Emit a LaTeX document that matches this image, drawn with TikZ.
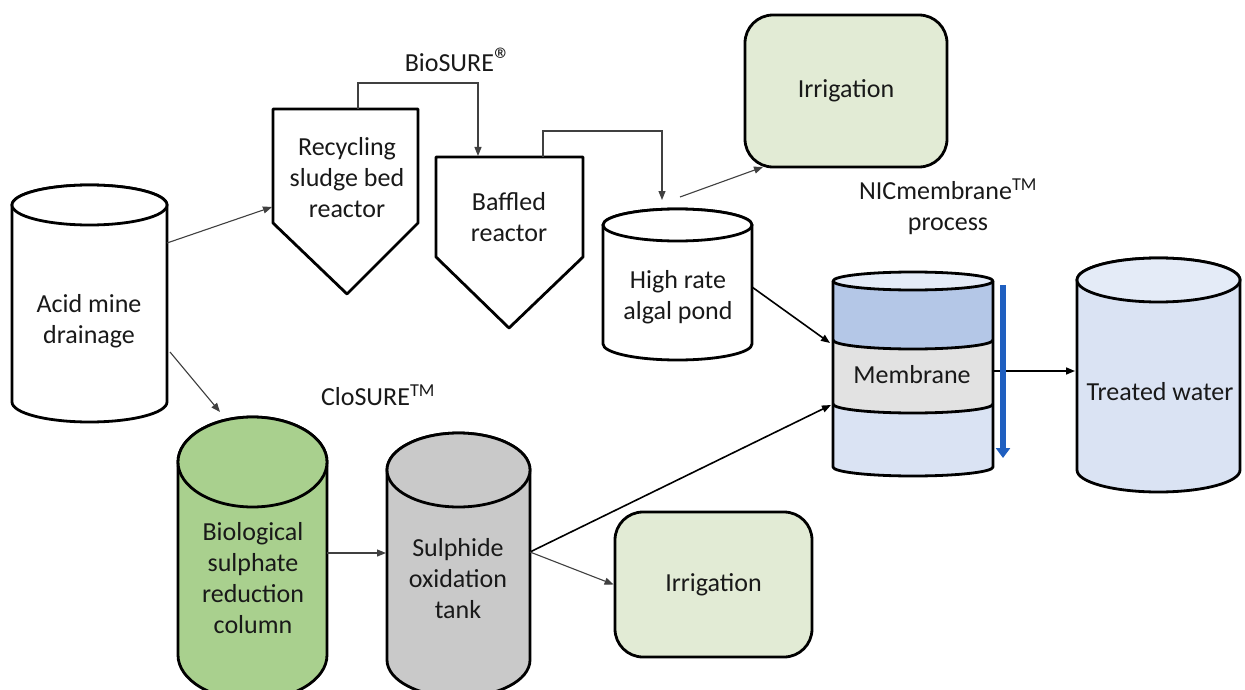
\documentclass[tikz,border=0pt]{standalone}
\usepackage{fontspec}
\setmainfont{Carlito}
\usetikzlibrary{arrows.meta}
\definecolor{irrfill}{HTML}{E2EBD5}
\definecolor{greenfill}{HTML}{A9D08E}
\definecolor{greyfill}{HTML}{C9C9C9}
\definecolor{blueband}{HTML}{B4C7E7}
\definecolor{bluelight}{HTML}{DAE3F3}
\definecolor{bluetop}{HTML}{E4EBF7}
\definecolor{memgrey}{HTML}{E2E2E2}
\definecolor{arrowblue}{HTML}{1F5FC0}
\definecolor{conn}{HTML}{404040}
\newcommand{\mycylshape}[7]{%
  \pgfmathsetmacro\myrx{(#2-#1)/2}%
  \pgfmathsetmacro\mycx{(#1+#2)/2}%
  \filldraw[shapeline, fill=#6] (#1,-#3) -- (#1,-#4) arc[start angle=180, end angle=360, x radius=\myrx pt, y radius=#5 pt] -- (#2,-#3) arc[start angle=0, end angle=180, x radius=\myrx pt, y radius=#5 pt] -- cycle;
  \filldraw[shapeline, fill=#7] (\mycx,-#3) ellipse[x radius=\myrx pt, y radius=#5 pt];
}
\tikzset{
  shapeline/.style={draw=black, line width=2.8pt, line join=round},
  lbl/.style={font=\fontsize{26}{31}\selectfont, align=center, inner sep=0pt, text=black!90},
  irrbox/.style={shapeline, fill=irrfill, rounded corners=28pt, font=\fontsize{26}{31}\selectfont, text=black!90},
  link/.style={draw=conn, line width=1.1pt, -{Triangle[length=9pt,width=7pt]}},
  boldlink/.style={draw=black, line width=1.6pt, -{Triangle[length=9pt,width=7pt]}},
}
\begin{document}
\begin{tikzpicture}[x=1pt,y=1pt]
\clip (0,0) rectangle (1245,-690);
\fill[white] (0,0) rectangle (1245,-690);

% cylinders
\mycylshape{12}{167}{205}{402}{20}{white}{white}
\mycylshape{603}{752}{225}{344}{16}{white}{white}
\mycylshape{1077}{1240}{280}{470}{22}{bluelight}{bluetop}
\mycylshape{178}{327}{462}{655}{45}{greenfill}{greenfill}
\mycylshape{387}{530}{470}{660}{37}{greyfill}{greyfill}

% membrane stack
\fill[bluelight] (833,-281) -- (833,-467) arc[start angle=180,end angle=360,x radius=80pt,y radius=9pt] -- (993,-281) -- cycle;
\fill[memgrey] (833,-340) arc[start angle=180,end angle=360,x radius=80pt,y radius=9pt] -- (993,-404) arc[start angle=0,end angle=-180,x radius=80pt,y radius=9pt] -- cycle;
\fill[blueband] (833,-281) -- (833,-340) arc[start angle=180,end angle=360,x radius=80pt,y radius=9pt] -- (993,-281) -- cycle;
\draw[shapeline] (833,-281) -- (833,-467) arc[start angle=180,end angle=360,x radius=80pt,y radius=9pt] -- (993,-281);
\draw[shapeline] (833,-340) arc[start angle=180,end angle=360,x radius=80pt,y radius=9pt];
\draw[shapeline] (833,-404) arc[start angle=180,end angle=360,x radius=80pt,y radius=9pt];
\filldraw[shapeline, fill=bluetop] (913,-281) ellipse[x radius=80pt, y radius=9pt];

% reactors
\draw[shapeline, fill=white] (273,-109) -- (418,-109) -- (418,-223) -- (347,-294) -- (273,-223) -- cycle;
\draw[shapeline, fill=white] (436,-157) -- (583,-157) -- (583,-257) -- (509,-328) -- (436,-257) -- cycle;

% text nodes
\node[lbl] (amd) at (89,-321) {Acid mine\\drainage};
\node[lbl] (rsb) at (347,-178) {Recycling\\sludge bed\\reactor};
\node[lbl] (baf) at (509,-217) {Baffled\\reactor};
\node[lbl] (hra) at (678,-297) {High rate\\algal pond};
\node[lbl] (mem) at (912,-375) {Membrane};
\node[lbl] (tw) at (1160,-392) {Treated water};
\node[lbl] (bio) at (253,-578) {Biological\\sulphate\\reduction\\column};
\node[lbl] (sox) at (458,-579) {Sulphide\\oxidation\\tank};
\node[lbl] (biosure) at (458,-60) {BioSURE{\fontsize{34}{34}\selectfont ®}};
\node[lbl] (closure) at (378,-395) {CloSURE\textsuperscript{TM}};
\node[lbl] (nic) at (948,-207) {NICmembrane\textsuperscript{TM}\\process};
\node[irrbox, minimum width=202pt, minimum height=152pt] (irr1) at (846,-91) {Irrigation};
\node[irrbox, minimum width=197pt, minimum height=145pt] (irr2) at (713.5,-584.5) {Irrigation};

% connector end points on the drawn shapes
\coordinate (amdA) at (167,-243);
\coordinate (amdB) at (170,-352);
\coordinate (rsbIn) at (272,-207);
\coordinate (rsbTop) at (358,-109);
\coordinate (bafTop) at (478,-156);
\coordinate (bafOut) at (543,-157);
\coordinate (hraTop) at (662,-200);
\coordinate (hraOut) at (680,-197);
\coordinate (irr1In) at (763,-167);
\coordinate (hraR) at (752,-287);
\coordinate (memIn1) at (830,-343);
\coordinate (memIn2) at (831,-405);
\coordinate (memR) at (993,-371);
\coordinate (twL) at (1075,-371);
\coordinate (bioTop) at (220,-412);
\coordinate (bioR) at (327,-553);
\coordinate (soxL) at (386,-553);
\coordinate (soxR) at (530,-552);

% connectors
\draw[link] (amdA) -- (rsbIn);
\draw[link] (amdB) -- (bioTop);
\draw[link] (rsbTop) -- (358,-83) -- (478,-83) -- (bafTop);
\draw[link] (bafOut) -- (543,-131) -- (662,-131) -- (hraTop);
\draw[link] (hraOut) -- (irr1In);
\draw[boldlink] (hraR) -- (memIn1);
\draw[boldlink] (memR) -- (twL);
\draw[link] (bioR) -- (soxL);
\draw[boldlink] (soxR) -- (memIn2);
\draw[link] (soxR) -- (irr2.west);

% flow arrow
\coordinate (flowTop) at (1003,-285);
\coordinate (flowBot) at (1003,-458);
\draw[arrowblue, line width=6pt, -{Triangle[length=10pt,width=14pt]}] (flowTop) -- (flowBot);
\end{tikzpicture}
\end{document}
